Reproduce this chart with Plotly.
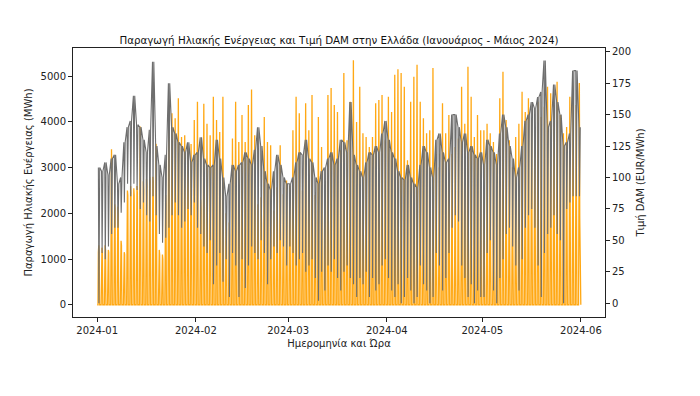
import pandas as pd
import plotly.graph_objects as go

# ---- Data (one value per day, Jan 1 – May 31, 2024) ----
days = pd.date_range("2024-01-01", "2024-05-31", freq="D")

# Broad daytime solar level (MWh) per day
solar_body = (
    [1150,1150,1200,1150,2000,2100,2000,1300,1100,2400,2450,2400,2450,2500,2500,2600,
     2700,2700,2500,1100,1000,2200,2300,2250,2200,2300,2250,2200,2250,2300,2350] +
    [2200,2100,2300,1900,1800,2000,2100,1700,1900,1600,1500,2000,2100,2200,1900,2100,
     2000,2200,2100,1700,1800,1900,1700,1600,1800,1800,1600,1700,1900] +
    [1700,1900,2000,2100,1900,2000,2100,2200,1800,1500,1900,1700,2000,2100,2000,1900,
     1800,2100,1900,2000,2200,1700,1900,1800,1700,1600,1800,1900,2000,2100,2000] +
    [1400,1300,1500,1600,1400,1300,1200,1300,1400,1500,1300,1200,1100,1200,1300,1000,
     1100,1300,1200,1400,900,950,960,1100,1300,1400,1500,1300,1400,1500] +
    [900,1000,1100,900,800,1200,1400,1500,1300,1200,1100,1500,1700,1800,1900,2000,
     2000,1900,1800,2000,2100,2000,1900,1800,1700,1800,1900,2000,1950,1950,1900]
)

# Daily peak solar generation (MWh)
solar_peak = (
    [1300,1250,1300,1200,3400,2200,2150,1400,1150,2500,2600,2550,2600,3900,2700,2750,
     2800,2800,3520,1200,1100,2400,4480,4190,4080,4520,3670,3710,3380,3520,4040] +
    [4440,2300,4400,3960,3710,4550,4040,3780,4550,2000,1800,3640,4440,3560,4150,3560,
     4370,4710,3710,2200,2350,4110,3560,3490,2060,2570,3490,2420,2720] +
    [2600,3820,4550,4190,2500,4410,3820,4590,2400,4110,3450,2300,4590,4740,4370,4220,
     3380,5070,3600,4440,5350,4000,4770,3750,3670,3450,3670,4410,4480,4590,3600] +
    [4550,4220,5030,5150,5070,4770,3160,4440,4990,5250,4440,4080,3750,3820,5180,3300,
     3010,4410,3750,4150,3300,3450,3640,4770,3960,5210,4550,3670,4150,3820] +
    [3820,3960,3750,3560,3300,4520,5100,4040,3600,3010,3670,3960,4660,4220,4520,4040,
     3850,4440,4110,4330,4770,4630,4260,4880,4150,3750,3890,4550,4410,4370,4850]
)

# Daily high / low DAM price (EUR/MWh)
price_high = (
    [108,105,112,102,115,118,95,100,128,140,145,165,142,140,130,120,138,192,125,110,
     100,118,175,140,135,128,125,120,128,112,118] +
    [120,132,115,110,108,110,130,115,100,85,95,110,105,110,112,120,115,110,122,140,
     125,105,95,90,105,118,110,100,95] +
    [95,100,112,120,118,130,115,112,100,95,105,108,115,120,110,115,130,128,120,160,
     118,110,105,100,112,120,118,125,120,135,145] +
    [130,120,115,105,100,98,110,100,95,92,110,125,120,108,100,130,135,120,112,115,
     150,150,140,128,135,120,125,118,115,120] +
    [110,130,125,120,110,135,150,140,125,115,100,108,125,145,150,160,155,164,168,193,
     140,145,174,160,150,125,128,135,185,185,140]
)
price_low = (
    [0,40,35,45,55,60,60,72,80,95,85,95,90,75,80,70,65,85,70,55,48,52,60,70,80,70,
     60,65,75,70,80] +
    [60,55,45,40,50,15,30,40,17,35,5,40,30,5,35,12,30,45,40,35,50,40,15,35,45,40,50,
     45,30] +
    [45,40,30,35,40,25,30,35,20,2,25,10,30,25,35,20,10,25,30,20,15,5,20,15,25,5,20,
     10,15,30,35] +
    [20,10,5,15,0,5,20,10,0,5,30,15,10,0,5,40,30,10,20,40,60,70,65,30,20,5,15,0,10,5] +
    [5,40,50,10,0,20,35,55,60,45,30,10,35,60,70,75,60,30,5,40,55,60,70,55,50,0,75,80,
     85,85,85]
)

month_ticks = pd.date_range("2024-01-01", "2024-06-01", freq="MS")
month_labels = [d.strftime("%Y-%m") for d in month_ticks]

# ---- Build hourly-like series from the daily values ----
H = pd.Timedelta(hours=1)
sx, sy = [days[0]], [0]
for d, b, p in zip(days, solar_body, solar_peak):
    sx += [d + 6 * H, d + 9 * H, d + 12 * H, d + 15 * H, d + 18 * H]
    sy += [0, b, p, b, 0]
sx.append(days[-1] + 23 * H)
sy.append(0)

px, py = [], []
for d, hi, lo in zip(days, price_high, price_low):
    px += [d + 9 * H, d + 13 * H, d + 19 * H]
    py += [hi, lo, hi]

fig = go.Figure()
fig.add_trace(go.Scatter(x=sx, y=sy, mode="lines", yaxis="y",
                         line=dict(color="#FFA814", width=1.3),
                         name="Ηλιακή Παραγωγή", showlegend=False))
fig.add_trace(go.Scatter(x=px, y=py, mode="lines", yaxis="y2",
                         line=dict(color="#6e6e6e", width=1.1),
                         name="Τιμή DAM", showlegend=False))

font = "DejaVu Sans"
xr0 = pd.Timestamp("2024-01-01") - pd.Timedelta(days=7.6)
xr1 = pd.Timestamp("2024-05-31 23:00") + pd.Timedelta(days=7.6)

fig.update_layout(
    width=700, height=396,
    margin=dict(l=65, r=103, t=40, b=87),
    paper_bgcolor="white", plot_bgcolor="white",
    font=dict(family=font, size=10, color="#222"),
    title=dict(text="Παραγωγή Ηλιακής Ενέργειας και Τιμή DAM στην Ελλάδα (Ιανουάριος - Μάιος 2024)",
               x=0.5, xref="paper", xanchor="center",
               y=1 - 32 / 396, yref="container", yanchor="middle",
               font=dict(size=10.3, color="#111")),
    xaxis=dict(range=[xr0, xr1], tickvals=list(month_ticks), ticktext=month_labels,
               showgrid=False, zeroline=False, showline=True, mirror=True,
               linecolor="#222", linewidth=1, ticks="outside", ticklen=4,
               tickcolor="#222", automargin=False,
               title=dict(text="Ημερομηνία και Ώρα", font=dict(size=10), standoff=4)),
    yaxis=dict(range=[-267.5, 5617.5], tickvals=[0, 1000, 2000, 3000, 4000, 5000],
               showgrid=False, zeroline=False, showline=True, linecolor="#222",
               linewidth=1, ticks="outside", ticklen=4, tickcolor="#222",
               automargin=False,
               title=dict(text="Παραγωγή Ηλιακής Ενέργειας (MWh)", font=dict(size=10),
                          standoff=6)),
    yaxis2=dict(range=[-11, 203], overlaying="y", side="right",
                tickvals=[0, 25, 50, 75, 100, 125, 150, 175, 200],
                showgrid=False, zeroline=False, showline=True, linecolor="#222",
                linewidth=1, ticks="outside", ticklen=4, tickcolor="#222",
                automargin=False,
                title=dict(text="Τιμή DAM (EUR/MWh)", font=dict(size=10), standoff=6)),
)

fig.write_html("out.html")
